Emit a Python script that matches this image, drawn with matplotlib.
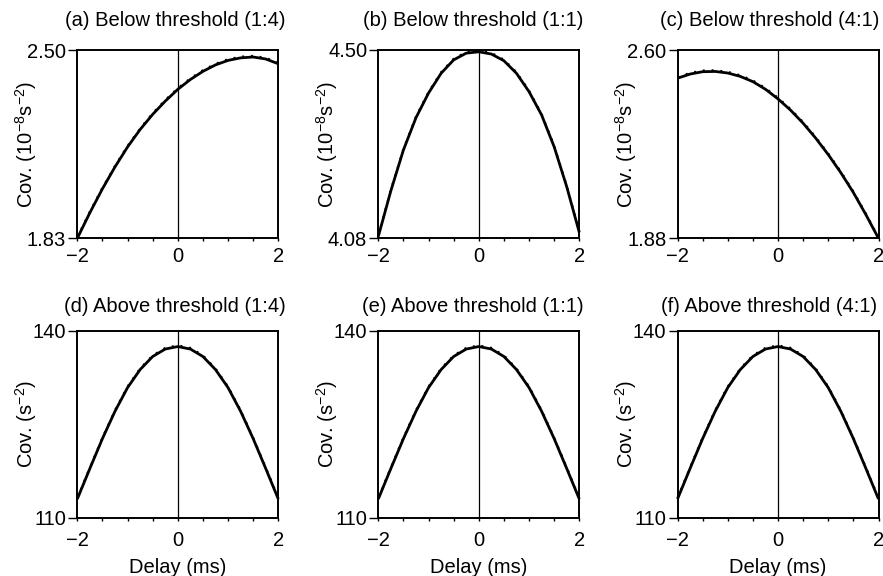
import numpy as np
import matplotlib
matplotlib.use("Agg")
import matplotlib.pyplot as plt
import matplotlib.transforms as mtransforms
from matplotlib.ticker import FixedLocator, FixedFormatter, MultipleLocator

plt.rcParams['font.family'] = ['Liberation Sans', 'DejaVu Sans']
plt.rcParams['mathtext.fontset'] = 'custom'
plt.rcParams['mathtext.rm'] = 'Liberation Sans'
plt.rcParams['mathtext.it'] = 'Liberation Sans:italic'
plt.rcParams['mathtext.default'] = 'regular'

# ---- data ----
delay = [-2.0, -1.75, -1.5, -1.25, -1.0, -0.75, -0.5, -0.25, 0.0,
         0.25, 0.5, 0.75, 1.0, 1.25, 1.5, 1.75, 2.0]

cov_a = [1.830, 1.921, 2.006, 2.084, 2.155, 2.217, 2.271, 2.318, 2.360,
         2.395, 2.424, 2.447, 2.463, 2.472, 2.475, 2.468, 2.451]
cov_b = [4.084, 4.186, 4.277, 4.349, 4.404, 4.448, 4.478, 4.493, 4.496,
         4.491, 4.476, 4.448, 4.407, 4.355, 4.284, 4.195, 4.093]
cov_c = [2.492, 2.508, 2.517, 2.518, 2.512, 2.499, 2.479, 2.450, 2.413,
         2.370, 2.320, 2.263, 2.200, 2.131, 2.055, 1.970, 1.880]
cov_d = [113.0, 117.9, 122.7, 127.1, 130.9, 133.8, 135.9, 137.1, 137.5,
         137.1, 135.9, 133.8, 130.9, 127.1, 122.7, 117.9, 113.0]
cov_e = [113.0, 117.9, 122.7, 127.1, 130.9, 133.8, 135.9, 137.1, 137.5,
         137.1, 135.9, 133.8, 130.9, 127.1, 122.7, 117.9, 113.0]
cov_f = [113.0, 117.9, 122.7, 127.1, 130.9, 133.8, 135.9, 137.1, 137.5,
         137.1, 135.9, 133.8, 130.9, 127.1, 122.7, 117.9, 113.0]

titles = ["(a) Below threshold (1:4)", "(b) Below threshold (1:1)",
          "(c) Below threshold (4:1)", "(d) Above threshold (1:4)",
          "(e) Above threshold (1:1)", "(f) Above threshold (4:1)"]
ylims = [(1.83, 2.50), (4.08, 4.50), (1.88, 2.60),
         (110, 140), (110, 140), (110, 140)]
ytick_labels = [["1.83", "2.50"], ["4.08", "4.50"], ["1.88", "2.60"],
                ["110", "140"], ["110", "140"], ["110", "140"]]
ylabel_below = r"Cov. (10$^{-8}$s$^{-2}$)"
ylabel_above = r"Cov. (s$^{-2}$)"
xticks = [-2, 0, 2]
xtick_labels = ["\u22122", "0", "2"]
xlabel = "Delay (ms)"

series = [cov_a, cov_b, cov_c, cov_d, cov_e, cov_f]

# ---- layout ----
W, H = 883, 576
fig = plt.figure(figsize=(W / 100, H / 100), dpi=100)
lefts = [77.3, 378.3, 677.5]
title_x = [0.485, 0.472, 0.458]
aw = 201.0
rows = [(50.0, 238.3), (331.0, 517.7)]
FS = 14.5

for i in range(6):
    r, c = divmod(i, 3)
    top, bot = rows[r]
    ax = fig.add_axes([lefts[c] / W, 1 - bot / H, aw / W, (bot - top) / H])
    ax.set_xlim(-2, 2)
    ax.set_ylim(*ylims[i])
    ax.axvline(0, color='black', lw=0.9, zorder=1)
    ax.plot(delay, series[i], color='black', lw=2.0, solid_capstyle='butt',
            clip_on=False, zorder=3)
    off = mtransforms.offset_copy(ax.transData, fig=fig, x=0, y=0.9, units='points')
    ax.plot(delay, series[i], color='black', lw=1.4, linestyle=(0, (1, 3.5)),
            transform=off, clip_on=False, zorder=4)
    for s in ax.spines.values():
        s.set_linewidth(1.4)
    ax.xaxis.set_major_locator(FixedLocator(xticks))
    ax.xaxis.set_major_formatter(FixedFormatter(xtick_labels))
    ax.xaxis.set_minor_locator(MultipleLocator(0.5))
    ax.tick_params(axis='x', which='both', direction='out', length=2.5, width=1.0,
                   labelsize=FS, pad=(4 if r == 0 else 7))
    ax.yaxis.set_major_locator(FixedLocator(list(ylims[i])))
    ax.yaxis.set_major_formatter(FixedFormatter(ytick_labels[i]))
    ax.tick_params(axis='y', which='major', direction='out', length=6.5, width=1.0,
                   labelsize=FS, pad=1.5)
    ax.set_title(titles[i], fontsize=FS, pad=(17 if r == 0 else 14), x=title_x[c])
    ax.set_ylabel(ylabel_below if r == 0 else ylabel_above, fontsize=FS)
    ax.yaxis.set_label_coords(-0.19, 0.5)
    if r == 1:
        ax.set_xlabel(xlabel, fontsize=FS, labelpad=6)

fig.savefig("out.png", dpi=100)
